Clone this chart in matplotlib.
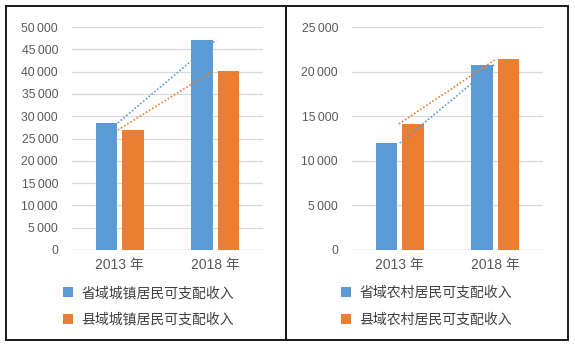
import numpy as np
import matplotlib.pyplot as plt
from matplotlib.patches import Rectangle
from matplotlib.ticker import FuncFormatter

plt.rcParams['font.family'] = ['Liberation Sans', 'Noto Sans CJK SC', 'DejaVu Sans']

years = ["2013 年", "2018 年"]

# urban disposable income (yuan)
urban_prov = [28500, 47100]
urban_county = [26900, 40100]
urban_labels = ["省域城镇居民可支配收入", "县域城镇居民可支配收入"]

# rural disposable income (yuan)
rural_prov = [12000, 20800]
rural_county = [14150, 21450]
rural_labels = ["省域农村居民可支配收入", "县域农村居民可支配收入"]

BLUE = "#5B9BD5"
ORANGE = "#ED7D31"
TEXT = "#595959"


def thousands(v, pos):
    v = int(round(v))
    if v < 1000:
        return str(v)
    return "{}\u2009{:03d}".format(v // 1000, v % 1000)


def draw_panel(ax, prov, county, labels, ymax, step, blue_x, orange_x):
    x = np.arange(len(years))
    w = 0.225
    b1 = ax.bar(x - 0.14, prov, w, color=BLUE, zorder=3)
    b2 = ax.bar(x + 0.14, county, w, color=ORANGE, zorder=3)

    # dotted growth lines between the two years
    ax.plot(blue_x, prov, linestyle=(0, (1, 1.2)), color=BLUE, lw=1.2, zorder=4)
    ax.plot(orange_x, county, linestyle=(0, (1, 1.2)), color=ORANGE, lw=1.2, zorder=4)

    ax.set_xlim(-0.5, 1.5)
    ax.set_ylim(0, ymax)
    ax.set_yticks(np.arange(0, ymax + 1, step))
    ax.yaxis.set_major_formatter(FuncFormatter(thousands))
    ax.set_xticks(x)
    ax.set_xticklabels(years, fontsize=10, color=TEXT)
    ax.tick_params(axis='y', length=0, pad=10, labelsize=8.7, labelcolor=TEXT)
    ax.tick_params(axis='x', length=0, pad=6)
    ax.grid(axis='y', color="#d9d9d9", lw=0.9, zorder=0)
    for s in ax.spines.values():
        s.set_visible(False)
    ax.axhline(0, color="#d9d9d9", lw=0.9, zorder=1)
    return b1, b2


fig = plt.figure(figsize=(5.75, 3.49), dpi=100)

axl = fig.add_axes([72 / 575, 99 / 349, 191 / 575, 223 / 349])
hl = draw_panel(axl, urban_prov, urban_county, urban_labels, 50000, 5000,
                [-0.02, 1.01], [-0.02, 0.97])

axr = fig.add_axes([352 / 575, 99 / 349, 191 / 575, 222.7 / 349])
hr = draw_panel(axr, rural_prov, rural_county, rural_labels, 25000, 5000,
                [0.0, 0.99], [-0.01, 1.01])

for handles, labels, x0 in [(hl, urban_labels, 63 / 575), (hr, rural_labels, 341 / 575)]:
    fig.legend(handles, labels, loc='upper left', bbox_to_anchor=(x0, 1 - 286 / 349),
               frameon=False, labelcolor="#404040",
               handlelength=0.7, handleheight=0.7, handletextpad=0.6,
               labelspacing=0.9, borderpad=0, borderaxespad=0,
               prop={'family': ['Noto Sans CJK SC', 'DejaVu Sans'], 'size': 10})

# panel frames
for x0, x1 in [(6, 286), (286, 568)]:
    fig.add_artist(Rectangle((x0 / 575, 1 - 340 / 349), (x1 - x0) / 575, 334 / 349,
                             transform=fig.transFigure, fill=False,
                             edgecolor="#1a1a1a", lw=1.4))

fig.savefig("out.png", dpi=100)
